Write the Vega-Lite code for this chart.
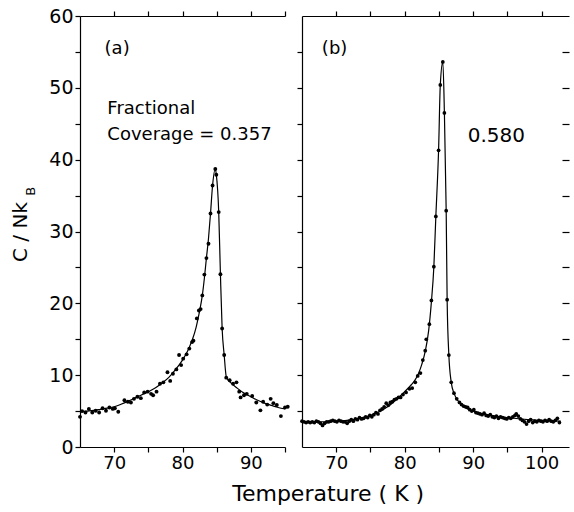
{
  "$schema": "https://vega.github.io/schema/vega-lite/v6.json",
  "background": "white",
  "padding": {"left": 10, "top": 7, "right": 5, "bottom": 5},
  "spacing": 6,
  "config": {
    "view": {"stroke": null},
    "font": "DejaVu Sans",
    "axis": {
      "grid": false,
      "domainColor": "black",
      "tickColor": "black",
      "labelColor": "black",
      "titleColor": "black",
      "domainWidth": 1.2,
      "tickWidth": 1.2,
      "labelFontSize": 18,
      "labelFont": "DejaVu Sans",
      "labelOverlap": false,
      "labelFlush": false,
      "labelBound": false,
      "titleFontWeight": "normal",
      "titleFont": "DejaVu Sans"
    }
  },
  "title": {"text": "Temperature  ( K )", "orient": "bottom", "anchor": "middle", "fontSize": 22, "fontWeight": "normal", "font": "DejaVu Sans", "color": "black", "offset": 12, "dx": 38},
  "datasets": {
    "one": [{"k": 1}],
    "a_pts": [
      {"T": 65.0, "C": 4.2}, {"T": 65.3, "C": 5.0}, {"T": 65.8, "C": 4.8}, {"T": 66.3, "C": 5.3}, {"T": 66.8, "C": 4.8},
      {"T": 67.3, "C": 5.05}, {"T": 67.8, "C": 4.8}, {"T": 68.3, "C": 5.4}, {"T": 68.8, "C": 5.05}, {"T": 69.3, "C": 5.5},
      {"T": 69.8, "C": 5.3}, {"T": 70.1, "C": 5.4}, {"T": 70.6, "C": 4.9}, {"T": 71.5, "C": 6.5}, {"T": 72.0, "C": 6.3},
      {"T": 72.45, "C": 6.2}, {"T": 72.9, "C": 6.7}, {"T": 73.4, "C": 7.0}, {"T": 73.9, "C": 6.8}, {"T": 74.4, "C": 7.6},
      {"T": 74.9, "C": 7.7}, {"T": 75.4, "C": 7.4}, {"T": 75.7, "C": 7.2}, {"T": 76.2, "C": 7.7}, {"T": 76.7, "C": 8.8},
      {"T": 77.2, "C": 9.0}, {"T": 77.8, "C": 10.4}, {"T": 78.2, "C": 9.2}, {"T": 78.6, "C": 10.2}, {"T": 79.1, "C": 10.8},
      {"T": 79.5, "C": 12.8}, {"T": 79.8, "C": 11.4}, {"T": 80.1, "C": 12.3}, {"T": 80.6, "C": 12.9}, {"T": 81.0, "C": 13.7},
      {"T": 81.4, "C": 14.6}, {"T": 81.6, "C": 14.8}, {"T": 82.1, "C": 17.9}, {"T": 82.4, "C": 19.0}, {"T": 82.65, "C": 19.2},
      {"T": 82.9, "C": 21.1}, {"T": 83.2, "C": 24.0}, {"T": 83.5, "C": 26.3}, {"T": 83.8, "C": 28.3}, {"T": 84.1, "C": 32.5},
      {"T": 84.4, "C": 36.4}, {"T": 84.8, "C": 38.7}, {"T": 84.95, "C": 37.9}, {"T": 85.3, "C": 32.7}, {"T": 85.55, "C": 24.05},
      {"T": 85.8, "C": 16.5}, {"T": 86.1, "C": 12.8}, {"T": 86.4, "C": 9.65}, {"T": 86.9, "C": 9.3}, {"T": 87.4, "C": 8.8},
      {"T": 87.9, "C": 9.0}, {"T": 88.3, "C": 7.7}, {"T": 88.5, "C": 6.9}, {"T": 89.0, "C": 7.2}, {"T": 89.4, "C": 7.4},
      {"T": 90.2, "C": 7.1}, {"T": 90.8, "C": 6.2}, {"T": 91.4, "C": 5.1}, {"T": 91.8, "C": 6.3}, {"T": 92.4, "C": 5.9},
      {"T": 92.9, "C": 6.7}, {"T": 93.3, "C": 6.1}, {"T": 93.8, "C": 5.85}, {"T": 94.4, "C": 4.3}, {"T": 95.0, "C": 5.5},
      {"T": 95.4, "C": 5.6}
    ],
    "a_fit": [
      {"T": 65, "C": 4.9}, {"T": 66, "C": 5.0}, {"T": 67, "C": 5.1}, {"T": 68, "C": 5.25}, {"T": 69, "C": 5.4},
      {"T": 70, "C": 5.6}, {"T": 71, "C": 5.95}, {"T": 72, "C": 6.35}, {"T": 73, "C": 6.8}, {"T": 74, "C": 7.25},
      {"T": 75, "C": 7.7}, {"T": 76, "C": 8.2}, {"T": 77, "C": 8.9}, {"T": 78, "C": 9.7}, {"T": 79, "C": 10.8},
      {"T": 80, "C": 12.1}, {"T": 80.5, "C": 12.9}, {"T": 81, "C": 13.9}, {"T": 81.5, "C": 15.1}, {"T": 82, "C": 16.7},
      {"T": 82.5, "C": 18.9}, {"T": 82.9, "C": 21.1}, {"T": 83.2, "C": 23.5}, {"T": 83.5, "C": 26.3}, {"T": 83.8, "C": 29.0},
      {"T": 84.1, "C": 32.5}, {"T": 84.4, "C": 36.4}, {"T": 84.8, "C": 38.7}, {"T": 84.95, "C": 37.9}, {"T": 85.3, "C": 32.7},
      {"T": 85.55, "C": 24.05}, {"T": 85.8, "C": 16.5}, {"T": 86.1, "C": 12.8}, {"T": 86.4, "C": 9.8}, {"T": 86.7, "C": 9.3},
      {"T": 87, "C": 9.0}, {"T": 88, "C": 8.2}, {"T": 89, "C": 7.5}, {"T": 90, "C": 7.0}, {"T": 91, "C": 6.5},
      {"T": 92, "C": 6.1}, {"T": 93, "C": 5.8}, {"T": 94, "C": 5.5}, {"T": 95, "C": 5.3}
    ],
    "b_pts": [
      {"T": 65.0, "C": 3.6}, {"T": 65.3, "C": 3.5}, {"T": 65.6, "C": 3.4}, {"T": 65.9, "C": 3.5}, {"T": 66.2, "C": 3.4},
      {"T": 66.5, "C": 3.5}, {"T": 66.8, "C": 3.4}, {"T": 67.1, "C": 3.6}, {"T": 67.4, "C": 3.5}, {"T": 67.7, "C": 3.3},
      {"T": 68.0, "C": 3.0}, {"T": 68.3, "C": 3.3}, {"T": 68.6, "C": 3.5}, {"T": 68.9, "C": 3.5}, {"T": 69.2, "C": 3.6},
      {"T": 69.5, "C": 3.7}, {"T": 69.8, "C": 3.6}, {"T": 70.1, "C": 3.5}, {"T": 70.4, "C": 3.7}, {"T": 70.7, "C": 3.6},
      {"T": 71.0, "C": 3.5}, {"T": 71.3, "C": 3.5}, {"T": 71.6, "C": 3.3}, {"T": 71.9, "C": 3.6}, {"T": 72.2, "C": 3.8},
      {"T": 72.5, "C": 3.6}, {"T": 72.8, "C": 3.9}, {"T": 73.1, "C": 3.8}, {"T": 73.4, "C": 4.1}, {"T": 73.7, "C": 3.9},
      {"T": 74.0, "C": 4.0}, {"T": 74.3, "C": 4.2}, {"T": 74.6, "C": 4.1}, {"T": 74.9, "C": 4.4}, {"T": 75.2, "C": 4.2},
      {"T": 75.5, "C": 4.5}, {"T": 75.8, "C": 4.8}, {"T": 76.1, "C": 4.6}, {"T": 76.4, "C": 5.1}, {"T": 76.7, "C": 5.3},
      {"T": 77.0, "C": 5.6}, {"T": 77.3, "C": 6.1}, {"T": 77.6, "C": 5.8}, {"T": 77.9, "C": 6.2}, {"T": 78.2, "C": 6.3},
      {"T": 78.5, "C": 6.6}, {"T": 78.8, "C": 6.7}, {"T": 79.1, "C": 6.9}, {"T": 79.4, "C": 6.9}, {"T": 79.75, "C": 7.3},
      {"T": 80.2, "C": 7.6}, {"T": 80.7, "C": 8.1}, {"T": 81.1, "C": 8.2}, {"T": 81.55, "C": 9.0}, {"T": 81.9, "C": 9.9},
      {"T": 82.3, "C": 10.3}, {"T": 82.65, "C": 12.1}, {"T": 83.0, "C": 13.4}, {"T": 83.15, "C": 15.0}, {"T": 83.6, "C": 17.1},
      {"T": 83.9, "C": 20.4}, {"T": 84.26, "C": 25.1}, {"T": 84.55, "C": 32.1}, {"T": 84.95, "C": 41.3}, {"T": 85.2, "C": 50.4},
      {"T": 85.57, "C": 53.6}, {"T": 85.8, "C": 46.5}, {"T": 86.06, "C": 32.9}, {"T": 86.2, "C": 20.5}, {"T": 86.45, "C": 12.8},
      {"T": 86.8, "C": 9.0}, {"T": 87.2, "C": 7.5}, {"T": 87.6, "C": 6.7}, {"T": 88.0, "C": 6.2}, {"T": 88.3, "C": 5.9},
      {"T": 88.6, "C": 5.7}, {"T": 88.9, "C": 5.6}, {"T": 89.2, "C": 5.5}, {"T": 89.5, "C": 5.2}, {"T": 89.8, "C": 5.0},
      {"T": 90.1, "C": 5.2}, {"T": 90.4, "C": 4.8}, {"T": 90.7, "C": 4.7}, {"T": 91.0, "C": 4.6}, {"T": 91.3, "C": 4.5},
      {"T": 91.6, "C": 4.7}, {"T": 91.9, "C": 4.4}, {"T": 92.2, "C": 4.3}, {"T": 92.5, "C": 4.5}, {"T": 92.8, "C": 4.2},
      {"T": 93.1, "C": 4.1}, {"T": 93.4, "C": 4.3}, {"T": 93.7, "C": 4.0}, {"T": 94.0, "C": 4.2}, {"T": 94.3, "C": 4.1},
      {"T": 94.6, "C": 4.0}, {"T": 94.9, "C": 3.9}, {"T": 95.2, "C": 4.1}, {"T": 95.5, "C": 4.0}, {"T": 95.8, "C": 4.2},
      {"T": 96.1, "C": 4.4}, {"T": 96.3, "C": 4.6}, {"T": 96.6, "C": 4.3}, {"T": 96.9, "C": 3.9}, {"T": 97.2, "C": 3.7},
      {"T": 97.5, "C": 3.5}, {"T": 97.8, "C": 3.2}, {"T": 98.1, "C": 3.6}, {"T": 98.4, "C": 3.8}, {"T": 98.7, "C": 3.4},
      {"T": 99.0, "C": 3.6}, {"T": 99.3, "C": 3.5}, {"T": 99.6, "C": 3.7}, {"T": 99.9, "C": 3.6}, {"T": 100.2, "C": 3.5},
      {"T": 100.5, "C": 3.7}, {"T": 100.8, "C": 3.6}, {"T": 101.1, "C": 3.8}, {"T": 101.4, "C": 3.6}, {"T": 101.7, "C": 3.5},
      {"T": 102.0, "C": 3.7}, {"T": 102.3, "C": 4.0}, {"T": 102.6, "C": 3.4}
    ],
    "b_fit": [
      {"T": 65, "C": 3.5}, {"T": 67, "C": 3.5}, {"T": 69, "C": 3.55}, {"T": 71, "C": 3.65}, {"T": 72, "C": 3.75},
      {"T": 73, "C": 3.9}, {"T": 74, "C": 4.1}, {"T": 75, "C": 4.4}, {"T": 76, "C": 4.8}, {"T": 77, "C": 5.3},
      {"T": 78, "C": 5.95}, {"T": 79, "C": 6.8}, {"T": 80, "C": 7.7}, {"T": 81, "C": 8.7}, {"T": 81.5, "C": 9.3},
      {"T": 82, "C": 10.2}, {"T": 82.5, "C": 11.5}, {"T": 83, "C": 13.3}, {"T": 83.5, "C": 16.2}, {"T": 83.9, "C": 20.2},
      {"T": 84.26, "C": 25.1}, {"T": 84.55, "C": 32.1}, {"T": 84.95, "C": 41.3}, {"T": 85.2, "C": 50.4}, {"T": 85.57, "C": 53.6},
      {"T": 85.8, "C": 46.5}, {"T": 86.06, "C": 32.9}, {"T": 86.2, "C": 20.5}, {"T": 86.45, "C": 12.8}, {"T": 86.8, "C": 9.0},
      {"T": 87.2, "C": 7.5}, {"T": 87.6, "C": 6.7}, {"T": 88, "C": 6.2}, {"T": 89, "C": 5.4}, {"T": 90, "C": 5.0},
      {"T": 91, "C": 4.7}, {"T": 92, "C": 4.5}, {"T": 94, "C": 4.2}, {"T": 96, "C": 4.0}, {"T": 98, "C": 3.8},
      {"T": 100, "C": 3.7}, {"T": 102.8, "C": 3.6}
    ]
  },
  "hconcat": [
    {
      "width": 205,
      "height": 431,
      "resolve": {"axis": {"x": "independent", "y": "independent"}},
      "layer": [
        {
          "data": {"name": "a_fit"},
          "mark": {"type": "line", "color": "black", "strokeWidth": 1.2, "interpolate": "monotone"},
          "encoding": {
            "x": {"field": "T", "type": "quantitative", "scale": {"domain": [65, 95], "nice": false, "zero": false},
                  "axis": {"orient": "top", "title": null, "labels": false, "ticks": true, "tickSize": 5, "domain": true, "values": [70, 75, 80, 85, 90, 95]}},
            "y": {"field": "C", "type": "quantitative", "scale": {"domain": [0, 60], "nice": false}, "axis": null}
          }
        },
        {
          "data": {"name": "a_pts"},
          "mark": {"type": "circle", "size": 15, "color": "black", "opacity": 1},
          "encoding": {
            "x": {"field": "T", "type": "quantitative",
                  "axis": {"orient": "bottom", "title": null, "ticks": true, "tickSize": 5, "labelPadding": 2, "values": [70, 75, 80, 85, 90, 95], "labelExpr": "datum.value % 10 == 0 ? datum.label : ''"}},
            "y": {"field": "C", "type": "quantitative",
                  "axis": {"orient": "left", "title": "C / Nk", "titleFontSize": 20, "titlePadding": 18, "labelFontSize": 19, "ticks": true, "tickSize": 5, "labelPadding": 2,
                           "values": [0, 5, 10, 15, 20, 25, 30, 35, 40, 45, 50, 55, 60], "labelExpr": "datum.value % 10 == 0 ? datum.label : ''"}}
          }
        },
        {
          "data": {"name": "one"},
          "mark": {"type": "text", "text": "(a)", "align": "left", "baseline": "middle", "fontSize": 18, "color": "black"},
          "encoding": {"x": {"datum": 68.6, "type": "quantitative", "axis": null}, "y": {"datum": 55.4, "type": "quantitative", "axis": null}}
        },
        {
          "data": {"name": "one"},
          "mark": {"type": "text", "text": "Fractional", "align": "left", "baseline": "middle", "fontSize": 18, "color": "black"},
          "encoding": {"x": {"datum": 69.0, "type": "quantitative", "axis": null}, "y": {"datum": 47.1, "type": "quantitative", "axis": null}}
        },
        {
          "data": {"name": "one"},
          "mark": {"type": "text", "text": "Coverage = 0.357", "align": "left", "baseline": "middle", "fontSize": 18, "color": "black"},
          "encoding": {"x": {"datum": 69.0, "type": "quantitative", "axis": null}, "y": {"datum": 43.5, "type": "quantitative", "axis": null}}
        },
        {
          "data": {"name": "one"},
          "mark": {"type": "text", "text": "B", "align": "center", "baseline": "middle", "angle": 270, "fontSize": 13, "color": "black"},
          "encoding": {"x": {"datum": 57.9, "type": "quantitative", "axis": null}, "y": {"datum": 35.6, "type": "quantitative", "axis": null}}
        }
      ]
    },
    {
      "width": 267,
      "height": 431,
      "resolve": {"axis": {"x": "independent", "y": "independent"}},
      "layer": [
        {
          "data": {"name": "b_fit"},
          "mark": {"type": "line", "color": "black", "strokeWidth": 1.2, "interpolate": "monotone"},
          "encoding": {
            "x": {"field": "T", "type": "quantitative", "scale": {"domain": [65, 104], "nice": false, "zero": false},
                  "axis": {"orient": "top", "title": null, "labels": false, "ticks": true, "tickSize": 5, "domain": true, "values": [70, 75, 80, 85, 90, 95, 100]}},
            "y": {"field": "C", "type": "quantitative", "scale": {"domain": [0, 60], "nice": false},
                  "axis": {"orient": "right", "title": null, "labels": false, "domain": false, "tickSize": -7, "values": [5, 10, 15, 20, 25, 30, 35, 40, 45, 50, 55]}}
          }
        },
        {
          "data": {"name": "b_pts"},
          "mark": {"type": "circle", "size": 14, "color": "black", "opacity": 1},
          "encoding": {
            "x": {"field": "T", "type": "quantitative",
                  "axis": {"orient": "bottom", "title": null, "ticks": true, "tickSize": 5, "labelPadding": 2, "values": [70, 75, 80, 85, 90, 95, 100], "labelExpr": "datum.value % 10 == 0 ? datum.label : ''"}},
            "y": {"field": "C", "type": "quantitative",
                  "axis": {"orient": "left", "title": null, "labels": false, "ticks": true, "tickSize": 5, "domain": true, "values": [5, 10, 15, 20, 25, 30, 35, 40, 45, 50, 55]}}
          }
        },
        {
          "data": {"name": "one"},
          "mark": {"type": "text", "text": "(b)", "align": "left", "baseline": "middle", "fontSize": 18, "color": "black"},
          "encoding": {"x": {"datum": 67.9, "type": "quantitative", "axis": null}, "y": {"datum": 55.4, "type": "quantitative", "axis": null}}
        },
        {
          "data": {"name": "one"},
          "mark": {"type": "text", "text": "0.580", "align": "left", "baseline": "middle", "fontSize": 20, "color": "black"},
          "encoding": {"x": {"datum": 89.2, "type": "quantitative", "axis": null}, "y": {"datum": 43.3, "type": "quantitative", "axis": null}}
        }
      ]
    }
  ]
}
